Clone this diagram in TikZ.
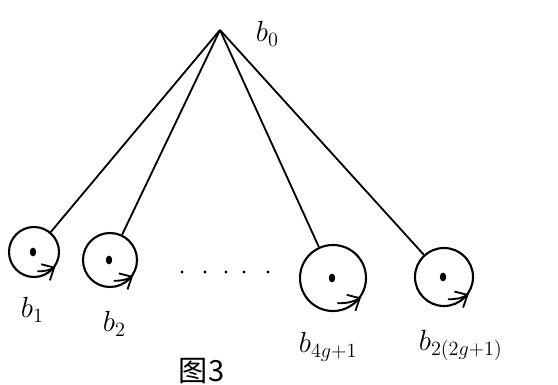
\documentclass[tikz,border=0pt]{standalone}
\usepackage{fontspec}
\newfontfamily\cjk{Noto Sans CJK SC}
\usetikzlibrary{calc}
\usetikzlibrary{arrows.meta}
\tikzset{loop/.style={draw, circle, line width=1.5pt, inner sep=0}}
\tikzset{lbl/.style={anchor=base west, inner sep=0, font=\huge}}

\begin{document}
\begin{tikzpicture} [x=.025cm, y=-.025cm, line width=1.3pt]
\useasboundingbox (0,0) rectangle (558,385);
\coordinate (top) at (220,30);
\node[lbl] (b0) at (255,42) {$b_0$};
\node[loop, minimum size=1.25cm] (c1) at (34,252) {};
\node[loop, minimum size=1.35cm] (c2) at (110,260) {};
\node[loop, minimum size=1.65cm] (c3) at (333,278) {};
\node[loop, minimum size=1.45cm] (c4) at (444,277) {};
\foreach \c in {c1,c2,c3,c4} {
  \draw (top)--(\c);
  \fill ($(\c.center)+(-1,0)$) ellipse (.08cm and .11cm);
  \draw[-{Straight Barb[length=7pt,width=13pt]}] ($(\c.center)!.75!(\c.-80)$) to[bend right=15] (\c.-35);
}
\foreach \x in {182,205,226,244,268} {
  \fill (\x,272) circle (.04cm);
}
\node[lbl] (l1) at (20,318) {$b_1$};
\node[lbl] (l2) at (102,332) {$b_2$};
\node[lbl] (l3) at (298,353) {$b_{4g+1}$};
\node[lbl] (l4) at (418,350) {$b_{2(2g+1)}$};
\node[lbl, font=\huge\cjk] (cap) at (178,382) {图3};
\end{tikzpicture}
\end{document}
